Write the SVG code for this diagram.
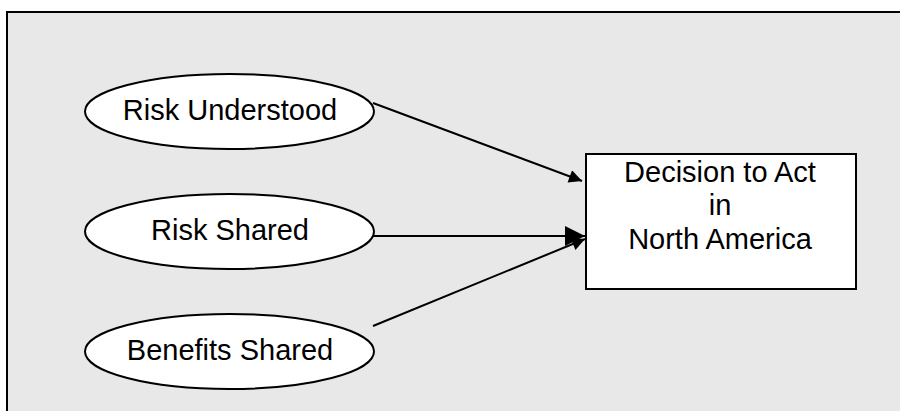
<svg xmlns="http://www.w3.org/2000/svg" width="900" height="411" viewBox="0 0 900 411">
<style>
.node ellipse,.node rect{fill:#fff;stroke:#000;stroke-width:2}
text{font-family:"Liberation Sans",Arial,sans-serif;font-size:29px;fill:#000;text-anchor:middle}
.conn line{stroke:#000;stroke-width:2}
</style>
<defs>
<marker id="ah" viewBox="0 0 10 10" refX="10" refY="5" markerWidth="8" markerHeight="6.5" markerUnits="strokeWidth" orient="auto">
<path d="M0,0 L10,5 L0,10 Z" fill="#000"/>
</marker>
<marker id="ahb" viewBox="0 0 10 10" refX="10" refY="5" markerWidth="10" markerHeight="10" markerUnits="strokeWidth" orient="auto">
<path d="M0,0 L10,5 L0,10 Z" fill="#000"/>
</marker>
</defs>
<rect x="0" y="0" width="900" height="411" fill="#fff"/>
<rect x="7" y="12" width="900" height="410" fill="#e8e8e8" stroke="#000" stroke-width="2"/>
<g class="conn">
<line x1="373" y1="103" x2="582" y2="181" marker-end="url(#ah)"/>
<line x1="373" y1="236" x2="585" y2="236" marker-end="url(#ahb)"/>
<line x1="373" y1="326" x2="585" y2="239" marker-end="url(#ah)"/>
</g>
<g id="risk-understood" class="node">
<ellipse cx="229.5" cy="111.5" rx="144.5" ry="37.5"/>
<text x="230" y="120">Risk Understood</text>
</g>
<g id="risk-shared" class="node">
<ellipse cx="229.5" cy="231.5" rx="144.5" ry="37.5"/>
<text x="230" y="240">Risk Shared</text>
</g>
<g id="benefits-shared" class="node">
<ellipse cx="229.5" cy="351.5" rx="144.5" ry="37.5"/>
<text x="230" y="360">Benefits Shared</text>
</g>
<g id="decision" class="node">
<rect x="586" y="154" width="270" height="135"/>
<text x="720" y="182">Decision to Act</text>
<text x="720" y="215">in</text>
<text x="720" y="249">North America</text>
</g>
</svg>
